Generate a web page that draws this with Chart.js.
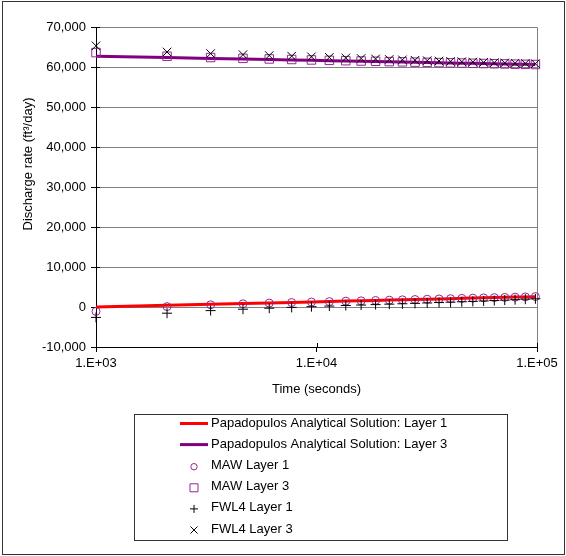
<!DOCTYPE html>
<html>
<head>
<meta charset="utf-8">
<title>Discharge rate</title>
<script src="https://cdn.jsdelivr.net/npm/chart.js@4.4.1/dist/chart.umd.min.js"></script>
<style>
  body { margin: 0; background: #fff; }
  canvas { display: block; }
</style>
</head>
<body>
<canvas id="discharge" width="566" height="556"></canvas>
<script>
  // simulation output times (seconds)
  const timeSec = [1000, 2100, 3310, 4641, 6105, 7716, 9487, 11436, 13579, 15937, 18531, 21384,
    24523, 27975, 31772, 35950, 40545, 45599, 51159, 57275, 64002, 71403, 79543, 88497, 98347];

  // discharge rates (ft3/day)
  const analyticL1 = [0, 420, 680, 870, 1020, 1150, 1270, 1380, 1470, 1560, 1650, 1730,
    1810, 1880, 1950, 2020, 2090, 2160, 2220, 2290, 2350, 2410, 2470, 2530, 2590];
  const analyticL3 = [62700, 62360, 62150, 62000, 61880, 61770, 61670, 61590, 61510, 61440, 61370, 61300,
    61240, 61180, 61120, 61070, 61010, 60960, 60910, 60850, 60800, 60750, 60700, 60660, 60610];
  const mawL1 = [-1100, 100, 550, 800, 980, 1120, 1240, 1350, 1450, 1540, 1630, 1710,
    1790, 1865, 1940, 2010, 2080, 2150, 2210, 2280, 2340, 2400, 2460, 2520, 2600];
  const mawL3 = [63600, 62690, 62370, 62160, 62010, 61880, 61760, 61670, 61580, 61500, 61430, 61350,
    61290, 61220, 61160, 61100, 61040, 60990, 60930, 60870, 60820, 60770, 60710, 60670, 60620];
  const fwlL1 = [-2600, -1550, -900, -550, -300, -100, 80, 230, 370, 490, 600, 710,
    810, 910, 1010, 1110, 1210, 1310, 1410, 1510, 1610, 1720, 1830, 1950, 2050];
  const fwlL3 = [65300, 63760, 63350, 63080, 62880, 62710, 62550, 62410, 62270, 62140, 62020, 61900,
    61790, 61690, 61590, 61500, 61410, 61330, 61250, 61160, 61090, 61020, 60950, 60890, 60820];

  const xTicks = [1000, 10000, 100000];

  const pts = (ys) => timeSec.map((t, i) => ({x: t, y: ys[i]}));

  const FONT = '13px "Liberation Sans", Arial, sans-serif';
  Chart.defaults.font.family = '"Liberation Sans", Arial, sans-serif';
  Chart.defaults.font.size = 13;
  Chart.defaults.color = '#000';

  const PURPLE = '#800080';
  const MARK = '#952595';

  // box around the plot, inner tick marks, outer frame, axis titles and the legend box
  const decorations = {
    id: 'decorations',
    beforeDatasetsDraw(chart) {
      const {ctx, chartArea: a, scales} = chart;
      ctx.save();
      ctx.strokeStyle = '#808080';
      ctx.lineWidth = 1;
      ctx.beginPath();
      ctx.moveTo(a.left, a.top + 0.5);
      ctx.lineTo(a.right + 0.5, a.top + 0.5);
      ctx.lineTo(a.right + 0.5, a.bottom);
      ctx.stroke();

      // tick marks cross the axes, so add the inside half
      ctx.strokeStyle = '#000';
      ctx.beginPath();
      scales.y.ticks.forEach(t => {
        const py = Math.round(scales.y.getPixelForValue(t.value)) + 0.5;
        ctx.moveTo(a.left, py);
        ctx.lineTo(a.left + 4, py);
      });
      scales.x.ticks.forEach(t => {
        const px = Math.round(scales.x.getPixelForValue(t.value)) + 0.5;
        ctx.moveTo(px, a.bottom);
        ctx.lineTo(px, a.bottom - 4);
      });
      ctx.stroke();
      ctx.restore();
    },
    afterDraw(chart) {
      const {ctx, chartArea: a} = chart;
      ctx.save();

      // outer frame
      ctx.strokeStyle = '#333';
      ctx.lineWidth = 1;
      ctx.strokeRect(2.5, 1.5, 562, 553);

      // axis titles
      ctx.fillStyle = '#000';
      ctx.font = FONT;
      ctx.textAlign = 'center';
      ctx.textBaseline = 'middle';
      ctx.fillText('Time (seconds)', (a.left + a.right) / 2, 389);
      ctx.save();
      ctx.translate(28, 164);
      ctx.rotate(-Math.PI / 2);
      ctx.fillText('Discharge rate (ft\u00B3/day)', 0, 0);
      ctx.restore();

      // legend
      const box = {x: 134.5, y: 414.5, w: 373, h: 126};
      ctx.strokeStyle = '#333';
      ctx.strokeRect(box.x, box.y, box.w, box.h);
      ctx.textAlign = 'left';
      chart.data.datasets.forEach((ds, i) => {
        const y = 423.5 + i * 21.1;
        const mx = 194;
        if (ds.showLine) {
          ctx.strokeStyle = ds.borderColor;
          ctx.lineWidth = 3;
          ctx.beginPath();
          ctx.moveTo(180, y);
          ctx.lineTo(208, y);
          ctx.stroke();
        } else {
          ctx.strokeStyle = ds.borderColor;
          ctx.lineWidth = 1;
          ctx.beginPath();
          if (ds.pointStyle === 'circle') {
            ctx.arc(mx, y + 1, 3.2, 0, Math.PI * 2);
          } else if (ds.pointStyle === 'rect') {
            ctx.rect(mx - 4, y - 3, 8, 8);
          } else if (ds.pointStyle === 'cross') {
            ctx.moveTo(mx - 4, y + 1); ctx.lineTo(mx + 4, y + 1);
            ctx.moveTo(mx, y - 3); ctx.lineTo(mx, y + 5);
          } else {
            ctx.moveTo(mx - 3.5, y - 2.5); ctx.lineTo(mx + 3.5, y + 4.5);
            ctx.moveTo(mx + 3.5, y - 2.5); ctx.lineTo(mx - 3.5, y + 4.5);
          }
          ctx.stroke();
        }
        ctx.fillStyle = '#000';
        ctx.fillText(ds.label, 211, y);
      });
      ctx.restore();
    }
  };

  new Chart(document.getElementById('discharge'), {
    type: 'scatter',
    data: {
      datasets: [
        {
          label: 'Papadopulos Analytical Solution: Layer 1',
          data: pts(analyticL1),
          showLine: true,
          borderColor: '#ff0000',
          borderWidth: 3,
          pointRadius: 0,
          order: 2
        },
        {
          label: 'Papadopulos Analytical Solution: Layer 3',
          data: pts(analyticL3),
          showLine: true,
          borderColor: PURPLE,
          borderWidth: 3,
          pointRadius: 0,
          order: 2
        },
        {
          label: 'MAW Layer 1',
          data: pts(mawL1),
          pointStyle: 'circle',
          pointRadius: 4,
          borderColor: MARK,
          backgroundColor: 'transparent',
          borderWidth: 1,
          order: 1
        },
        {
          label: 'MAW Layer 3',
          data: pts(mawL3),
          pointStyle: 'rect',
          pointRadius: 6,
          borderColor: MARK,
          backgroundColor: 'transparent',
          borderWidth: 1,
          order: 1
        },
        {
          label: 'FWL4 Layer 1',
          data: pts(fwlL1),
          pointStyle: 'cross',
          pointRadius: 5,
          borderColor: '#000',
          borderWidth: 1,
          order: 0
        },
        {
          label: 'FWL4 Layer 3',
          data: pts(fwlL3),
          pointStyle: 'crossRot',
          pointRadius: 6,
          borderColor: '#000',
          borderWidth: 1,
          order: 0
        }
      ]
    },
    options: {
      responsive: false,
      devicePixelRatio: 1,
      animation: false,
      clip: false,
      layout: {padding: {top: 27, right: 29, bottom: 179, left: 0}},
      plugins: {
        legend: {display: false},
        tooltip: {enabled: false}
      },
      scales: {
        x: {
          type: 'logarithmic',
          min: 1000,
          max: 100000,
          afterFit: (s) => { s.height = 30; },
          afterBuildTicks: (s) => { s.ticks = xTicks.map(v => ({value: v})); },
          ticks: {
            autoSkip: false,
            maxRotation: 0,
            padding: 4,
            callback: (v) => '1.E+' + String(Math.round(Math.log10(v))).padStart(2, '0')
          },
          grid: {drawOnChartArea: false, tickLength: 5, tickColor: '#000'},
          border: {color: '#000'}
        },
        y: {
          min: -10000,
          max: 70000,
          afterFit: (s) => { s.width = 96; },
          ticks: {stepSize: 10000, padding: 5},
          grid: {color: '#808080', tickLength: 5, tickColor: '#000'},
          border: {color: '#000'}
        }
      }
    },
    plugins: [decorations]
  });
</script>
</body>
</html>
